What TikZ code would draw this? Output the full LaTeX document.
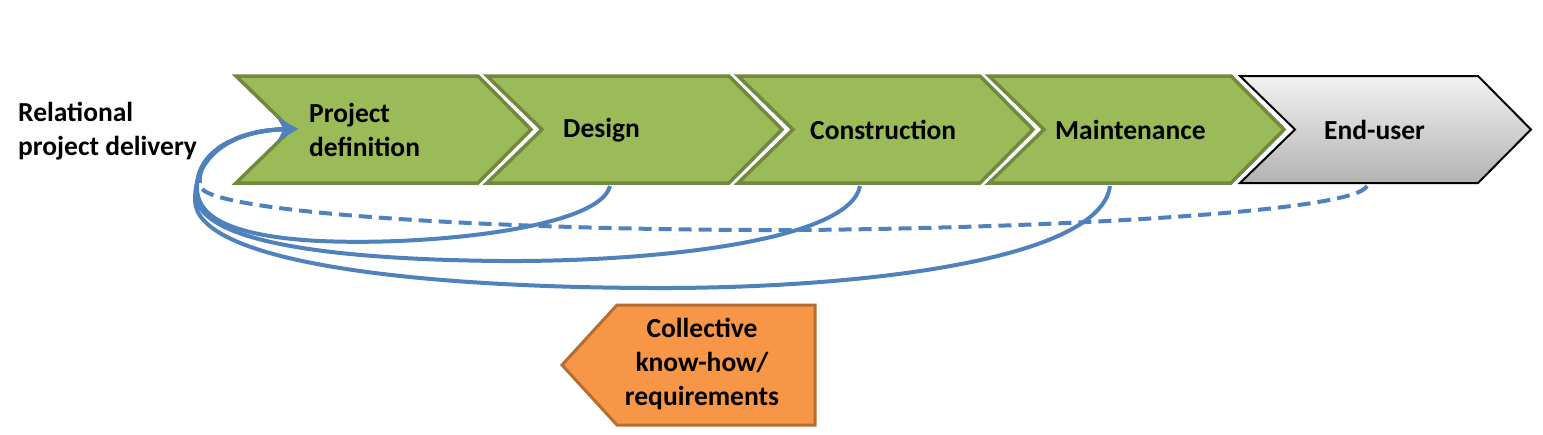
\documentclass[tikz,border=0pt]{standalone}
\usepackage{fontspec}
\setmainfont{Carlito}
\usetikzlibrary{arrows.meta}
\definecolor{gfill}{HTML}{9BBB59}
\definecolor{gline}{HTML}{71893F}
\definecolor{ofill}{HTML}{F79646}
\definecolor{oline}{HTML}{B66D31}
\definecolor{blu}{HTML}{4F81BD}
\tikzset{
  lbl/.style={font=\fontsize{27.5}{34}\selectfont\bfseries, align=left, inner sep=0pt, anchor=west},
  chevg/.style={fill=gfill, draw=gline, line width=3.5pt, line join=miter},
  chevgr/.style={top color=white!95!black, bottom color=black!30, draw=black, line width=2pt},
  fb/.style={draw=blu, line width=4pt, -{Stealth[length=20pt,width=22pt,inset=6pt]}},
  fbd/.style={fb, dash pattern=on 13pt off 7pt},
}
\begin{document}
\begin{tikzpicture}[x=1pt,y=-1pt]
\useasboundingbox (0,0) rectangle (1543,434);
% chevrons
\foreach \i in {0,1,2,3}{
  \pgfmathsetmacro{\L}{236+251*\i}
  \path[chevg] (\L,76) -- ++(242,0) -- ++(53,53.5) -- ++(-53,53.5) -- ++(-242,0) -- ++(55,-53.5) -- cycle;
}
\path[chevgr] (1240,76) -- ++(238,0) -- ++(53,53.5) -- ++(-53,53.5) -- ++(-238,0) -- ++(55,-53.5) -- cycle;
% orange
\path[fill=ofill, draw=oline, line width=3pt] (562,365) -- (617,305) -- (815,305) -- (815,425) -- (617,425) -- cycle;
% labels
\node[lbl] (rpd) at (18,131) {Relational\\project delivery};
\node[lbl] (pd) at (309,130) {Project\\definition};
\node[lbl] (de) at (563,130) {Design};
\node[lbl] (co) at (810,130) {Construction};
\node[lbl] (ma) at (1055,130) {Maintenance};
\node[lbl] (eu) at (1324,130) {End-user};
\node[lbl, align=center, anchor=center] (ck) at (702,364) {Collective\\know-how/\\requirements};
% anchors
\coordinate (tgt) at (298,129);
\coordinate (deb) at (610,186);
\coordinate (cob) at (860,186);
\coordinate (mab) at (1110,186);
\coordinate (eub) at (1367,186);
% connectors
\draw[fbd] (eub) .. controls (1355,212) and (1050,228) .. (800,230) .. controls (520,231) and (206,214) .. (200,186) .. controls (196,150) and (240,130) .. (tgt);
\draw[fb] (deb) .. controls (600,228) and (430,246) .. (320,241) .. controls (220,236) and (197,212) .. (197,188) .. controls (196,150) and (240,130) .. (tgt);
\draw[fb] (cob) .. controls (850,240) and (660,262) .. (500,261) .. controls (300,259) and (196,236) .. (196,194) .. controls (196,150) and (240,130) .. (tgt);
\draw[fb] (mab) .. controls (1100,262) and (850,289) .. (650,288) .. controls (400,287) and (195,260) .. (195,200) .. controls (195,150) and (240,130) .. (tgt);
\end{tikzpicture}
\end{document}
